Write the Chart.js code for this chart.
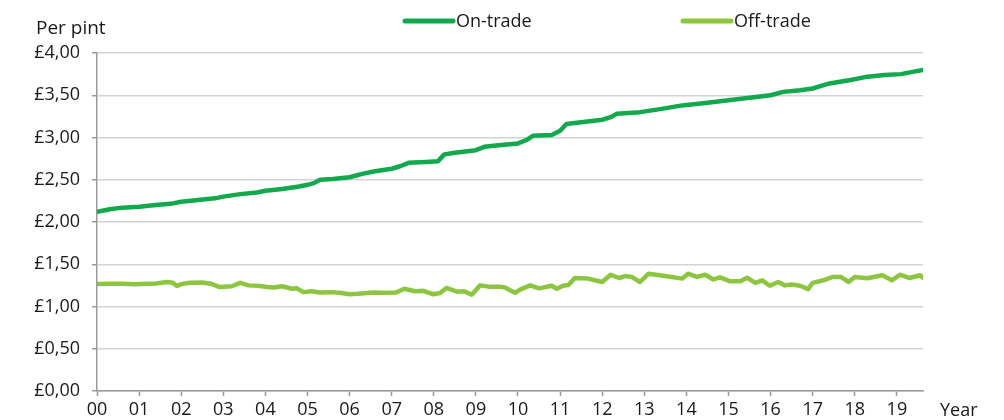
<!DOCTYPE html>
<html>
<head>
<meta charset="utf-8">
<script src="https://cdn.jsdelivr.net/npm/chart.js@4/dist/chart.umd.min.js"></script>
<style>
    body { margin: 0; background: #fff; }
    #caja { width: 1004px; height: 420px; position: relative; }
</style>
</head>
<body>
<div id="caja"><canvas id="precio-grafica"></canvas></div>
<script>
// Etiquetas del eje x (años 2000-2019)
const yearLabels = ['00','01','02','03','04','05','06','07','08','09','10','11','12','13','14','15','16','17','18','19'];

// Precio medio por pinta, en la barra (on-trade)
const onTradeYears = [0.0, 0.3, 0.6, 1.0, 1.4, 1.8, 2.0, 2.4, 2.8, 3.0, 3.4, 3.8, 4.0, 4.4, 4.8, 5.0, 5.15, 5.3, 5.6, 6.0,
    6.3, 6.6, 7.0, 7.2, 7.4, 7.8, 8.1, 8.25, 8.5, 9.0, 9.2, 9.6, 10.0, 10.2, 10.35, 10.8, 11.0, 11.15, 11.5, 12.0,
    12.2, 12.35, 12.9, 13.3, 13.9, 14.5, 15.0, 15.5, 16.0, 16.3, 16.7, 17.0, 17.2, 17.4, 17.9, 18.3, 18.7, 19.1, 19.4, 19.62];
const onTradeValues = [2.12, 2.15, 2.17, 2.18, 2.20, 2.22, 2.24, 2.26, 2.28, 2.30, 2.33, 2.35, 2.37, 2.39, 2.42, 2.44, 2.46, 2.50, 2.51, 2.53,
    2.57, 2.60, 2.63, 2.66, 2.70, 2.71, 2.72, 2.80, 2.82, 2.85, 2.89, 2.91, 2.93, 2.97, 3.02, 3.03, 3.08, 3.16, 3.18, 3.21,
    3.24, 3.28, 3.30, 3.33, 3.38, 3.41, 3.44, 3.47, 3.50, 3.54, 3.56, 3.58, 3.61, 3.64, 3.68, 3.72, 3.74, 3.75, 3.78, 3.80];

// Precio medio por pinta, en tienda (off-trade)
const offTradeYears = [0.0, 0.3, 0.6, 0.9, 1.2, 1.4, 1.66, 1.8, 1.9, 2.0, 2.2, 2.5, 2.7, 2.92, 3.2, 3.4, 3.6, 3.82, 4.05, 4.2,
    4.4, 4.63, 4.75, 4.9, 5.1, 5.3, 5.6, 5.8, 6.0, 6.2, 6.56, 6.8, 7.1, 7.3, 7.55, 7.75, 7.99, 8.15, 8.3, 8.55,
    8.72, 8.9, 9.1, 9.3, 9.57, 9.69, 9.93, 10.05, 10.29, 10.5, 10.8, 10.92, 11.07, 11.2, 11.35, 11.66, 12.0, 12.2, 12.4, 12.55,
    12.7, 12.9, 13.1, 13.5, 13.9, 14.04, 14.25, 14.45, 14.64, 14.8, 15.04, 15.28, 15.44, 15.64, 15.8, 15.98, 16.18, 16.34, 16.5, 16.7,
    16.89, 17.0, 17.25, 17.48, 17.67, 17.85, 18.0, 18.3, 18.65, 18.88, 19.07, 19.3, 19.55, 19.62];
const offTradeValues = [1.265, 1.27, 1.268, 1.263, 1.27, 1.272, 1.29, 1.28, 1.243, 1.265, 1.28, 1.285, 1.27, 1.23, 1.24, 1.28, 1.25, 1.245, 1.23, 1.225,
    1.24, 1.21, 1.215, 1.17, 1.18, 1.165, 1.17, 1.16, 1.145, 1.15, 1.165, 1.162, 1.165, 1.21, 1.18, 1.185, 1.145, 1.16, 1.22, 1.175,
    1.18, 1.14, 1.25, 1.235, 1.235, 1.225, 1.163, 1.2, 1.25, 1.215, 1.245, 1.21, 1.245, 1.255, 1.337, 1.33, 1.29, 1.376, 1.337, 1.36,
    1.35, 1.29, 1.388, 1.36, 1.33, 1.388, 1.35, 1.376, 1.32, 1.345, 1.298, 1.298, 1.34, 1.28, 1.31, 1.245, 1.29, 1.25, 1.26, 1.245,
    1.205, 1.28, 1.31, 1.35, 1.35, 1.29, 1.35, 1.335, 1.37, 1.31, 1.376, 1.337, 1.37, 1.34];

const verdeBarra = '#12a84e';
const verdeTienda = '#8cc640';
const fuente = "'Open Sans', 'Noto Sans', sans-serif";

// Textos sueltos y leyenda propia
const textos = {
    id: 'textos',
    afterDraw(chart) {
        const ctx = chart.ctx;
        ctx.save();
        ctx.fillStyle = '#1a1a1a';
        ctx.textBaseline = 'alphabetic';
        ctx.font = `19px ${fuente}`;
        ctx.fillText('Per pint', 36, 34);
        ctx.font = `18px ${fuente}`;
        ctx.fillText('Year', 940, 416);

        const leyenda = [
            { texto: 'On-trade', color: verdeBarra, x: 403 },
            { texto: 'Off-trade', color: verdeTienda, x: 681 }
        ];
        leyenda.forEach(item => {
            ctx.strokeStyle = item.color;
            ctx.lineWidth = 5;
            ctx.lineCap = 'round';
            ctx.beginPath();
            ctx.moveTo(item.x + 2, 21);
            ctx.lineTo(item.x + 50, 21);
            ctx.stroke();
            ctx.fillStyle = '#1a1a1a';
            ctx.font = `18px ${fuente}`;
            ctx.fillText(item.texto, item.x + 53, 27);
        });
        ctx.restore();
    }
};

const ctx = document.getElementById('precio-grafica').getContext('2d');
const myChart = new Chart(ctx, {
    type: 'line',
    data: {
        datasets: [{
            label: 'On-trade',
            data: onTradeYears.map((x, i) => ({ x: x, y: onTradeValues[i] })),
            borderColor: verdeBarra,
            backgroundColor: verdeBarra,
            borderWidth: 4.5,
            pointRadius: 0,
            tension: 0,
            borderJoinStyle: 'round',
            borderCapStyle: 'round'
        }, {
            label: 'Off-trade',
            data: offTradeYears.map((x, i) => ({ x: x, y: offTradeValues[i] })),
            borderColor: verdeTienda,
            backgroundColor: verdeTienda,
            borderWidth: 4.5,
            pointRadius: 0,
            tension: 0,
            borderJoinStyle: 'round',
            borderCapStyle: 'round'
        }]
    },
    options: {
        responsive: true,
        maintainAspectRatio: false,
        animation: false,
        layout: {
            padding: { top: 53, right: 81, left: 0, bottom: 0 }
        },
        plugins: {
            legend: { display: false },
            tooltip: { enabled: false }
        },
        scales: {
            x: {
                type: 'linear',
                min: 0,
                max: 19.62,
                afterBuildTicks: axis => {
                    axis.ticks = yearLabels.map((_, i) => ({ value: i }));
                },
                afterFit: axis => {
                    axis.height = 29;
                },
                ticks: {
                    autoSkip: false,
                    maxRotation: 0,
                    padding: 3,
                    color: '#1a1a1a',
                    font: { family: fuente, size: 18 },
                    callback: value => yearLabels[value]
                },
                grid: {
                    drawOnChartArea: false,
                    drawTicks: true,
                    tickLength: 5,
                    tickColor: '#9a9a9a',
                    tickWidth: 1.5
                },
                border: { color: '#9a9a9a', width: 1.5 }
            },
            y: {
                min: 0,
                max: 4,
                afterFit: axis => {
                    axis.width = 97;
                },
                ticks: {
                    stepSize: 0.5,
                    padding: 12,
                    color: '#1a1a1a',
                    font: { family: fuente, size: 18 },
                    callback: value => '£' + value.toFixed(2).replace('.', ',')
                },
                grid: {
                    color: '#d4d4d4',
                    lineWidth: 1.5,
                    tickLength: 5,
                    tickColor: '#9a9a9a',
                    tickWidth: 1.5
                },
                border: { color: '#9a9a9a', width: 1.5 }
            }
        }
    },
    plugins: [textos]
});
</script>
</body>
</html>
